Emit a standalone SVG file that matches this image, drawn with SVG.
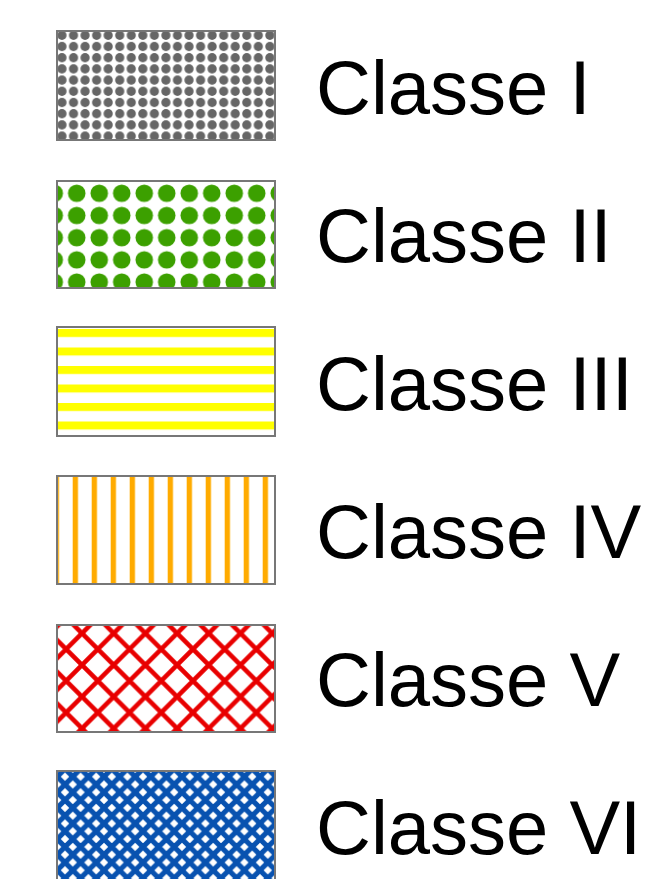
<svg xmlns="http://www.w3.org/2000/svg" width="658" height="879" viewBox="0 0 658 879">
  <style>
    .box { stroke: #777777; stroke-width: 2; }
    .lbl { font-family: "Liberation Sans", Arial, sans-serif; font-size: 76px; fill: #000000; }
  </style>
  <defs>
    <pattern id="pGrey" patternUnits="userSpaceOnUse" x="56.2" y="29.7" width="11.55" height="11.2">
      <circle cx="5.775" cy="5.6" r="4.6" fill="#666666"/>
    </pattern>
    <pattern id="pGreen" patternUnits="userSpaceOnUse" x="43" y="182.2" width="22.5" height="22.2">
      <circle cx="11.25" cy="11.1" r="8.8" fill="#3ca000"/>
    </pattern>
    <pattern id="pYellow" patternUnits="userSpaceOnUse" x="0" y="329" width="10" height="18.5">
      <rect x="0" y="0" width="10" height="8" fill="#ffff00"/>
    </pattern>
    <pattern id="pOrange" patternUnits="userSpaceOnUse" x="72.7" y="0" width="19" height="10">
      <rect x="0" y="0" width="5.3" height="10" fill="#ffab00"/>
    </pattern>
    <pattern id="pRed" patternUnits="userSpaceOnUse" x="82" y="633.3" width="31.7" height="31.7">
      <path d="M-31.7,-31.7L63.4,63.4M0,-31.7L95.1,63.4M-63.4,-31.7L31.7,63.4M31.7,-31.7L-63.4,63.4M63.4,-31.7L-31.7,63.4M95.1,-31.7L0,63.4" stroke="#e80000" stroke-width="4.6" fill="none"/>
    </pattern>
    <pattern id="pBlue" patternUnits="userSpaceOnUse" x="57.2" y="776.7" width="15.6" height="15.6">
      <path d="M-15.6,-15.6L31.2,31.2M0,-15.6L46.8,31.2M-31.2,-15.6L15.6,31.2M15.6,-15.6L-31.2,31.2M31.2,-15.6L-15.6,31.2M46.8,-15.6L0,31.2" stroke="#0852b0" stroke-width="5.1" fill="none"/>
    </pattern>
  </defs>
  <rect x="0" y="0" width="658" height="879" fill="#ffffff"/>

  <g id="classe-1">
    <rect x="57" y="31" width="218" height="109" fill="#ffffff"/>
    <rect class="box" x="57" y="31" width="218" height="109" fill="url(#pGrey)"/>
    <text class="lbl" x="316" y="114">Classe I</text>
  </g>
  <g id="classe-2">
    <rect x="57" y="181" width="218" height="107" fill="#ffffff"/>
    <rect class="box" x="57" y="181" width="218" height="107" fill="url(#pGreen)"/>
    <text class="lbl" x="316" y="262">Classe II</text>
  </g>
  <g id="classe-3">
    <rect x="57" y="327" width="218" height="109" fill="#ffffff"/>
    <rect class="box" x="57" y="327" width="218" height="109" fill="url(#pYellow)"/>
    <text class="lbl" x="316" y="410">Classe III</text>
  </g>
  <g id="classe-4">
    <rect x="57" y="476" width="218" height="108" fill="#ffffff"/>
    <rect class="box" x="57" y="476" width="218" height="108" fill="url(#pOrange)"/>
    <text class="lbl" x="316" y="558">Classe IV</text>
  </g>
  <g id="classe-5">
    <rect x="57" y="625" width="218" height="107" fill="#ffffff"/>
    <rect class="box" x="57" y="625" width="218" height="107" fill="url(#pRed)"/>
    <text class="lbl" x="316" y="706">Classe V</text>
  </g>
  <g id="classe-6">
    <rect x="57" y="771" width="218" height="110" fill="#ffffff"/>
    <rect class="box" x="57" y="771" width="218" height="110" fill="url(#pBlue)"/>
    <text class="lbl" x="316" y="854">Classe VI</text>
  </g>
  <g id="connectors"/>
</svg>
